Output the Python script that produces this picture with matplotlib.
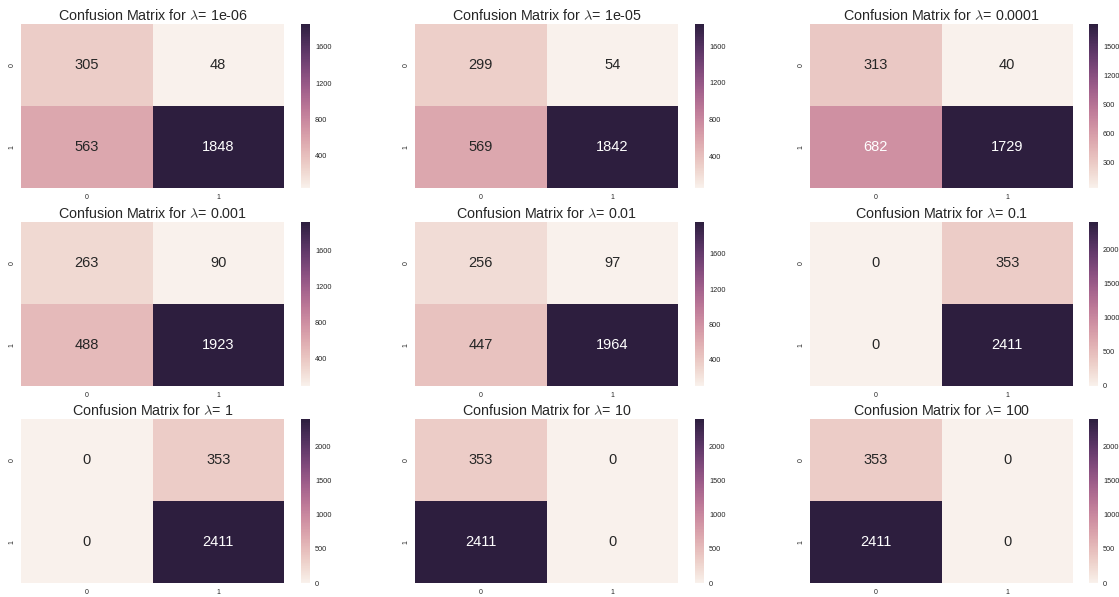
import numpy as np
import matplotlib
matplotlib.use("Agg")
import matplotlib.pyplot as plt
import seaborn as sns

plt.rcParams['font.family'] = ['Liberation Sans', 'DejaVu Sans']
plt.rcParams['mathtext.fontset'] = 'cm'
plt.rcParams['text.color'] = '.15'
plt.rcParams['xtick.color'] = '.15'
plt.rcParams['ytick.color'] = '.15'

lambdas = ['1e-06', '1e-05', '0.0001', '0.001', '0.01', '0.1', '1', '10', '100']
matrices = [
  [[305, 48], [563, 1848]],
  [[299, 54], [569, 1842]],
  [[313, 40], [682, 1729]],
  [[263, 90], [488, 1923]],
  [[256, 97], [447, 1964]],
  [[0, 353], [0, 2411]],
  [[0, 353], [0, 2411]],
  [[353, 0], [2411, 0]],
  [[353, 0], [2411, 0]],
]
cbar_ticks = [
  [400, 800, 1200, 1600],
  [400, 800, 1200, 1600],
  [300, 600, 900, 1200, 1500],
  [400, 800, 1200, 1600],
  [400, 800, 1200, 1600],
  [0, 500, 1000, 1500, 2000],
  [0, 500, 1000, 1500, 2000],
  [0, 500, 1000, 1500, 2000],
  [0, 500, 1000, 1500, 2000],
]
class_labels = ['0', '1']

W, H = 1119, 597
fig = plt.figure(figsize=(W / 100, H / 100), dpi=100)
cmap = sns.cubehelix_palette(light=.95, as_cmap=True)

col_left = [21, 415, 810]
cbar_left = [301, 695, 1089]
row_top = [24, 222, 419]
ax_w, ax_h, cb_w = 263, 164, 8.5

for i, (lam, m) in enumerate(zip(lambdas, matrices)):
  r, c = divmod(i, 3)
  ax = fig.add_axes([col_left[c] / W, 1 - (row_top[r] + ax_h) / H, ax_w / W, ax_h / H])
  cax = fig.add_axes([cbar_left[c] / W, 1 - (row_top[r] + ax_h) / H, cb_w / W, ax_h / H])
  sns.heatmap(np.array(m), annot=True, fmt='d', cmap=cmap, ax=ax, cbar_ax=cax,
              xticklabels=class_labels, yticklabels=class_labels,
              annot_kws={'fontsize': 10.5})
  ax.set_title(r'Confusion Matrix for $\lambda$= ' + lam, fontsize=10.3, pad=3)
  ax.tick_params(length=0, labelsize=5, pad=4)
  plt.setp(ax.get_yticklabels(), rotation=90, va='center')
  cb = ax.collections[0].colorbar
  cb.outline.set_visible(False)
  cb.set_ticks(cbar_ticks[i])
  cb.ax.tick_params(length=0, labelsize=5.3, pad=4)

fig.savefig('out.png', dpi=100)
